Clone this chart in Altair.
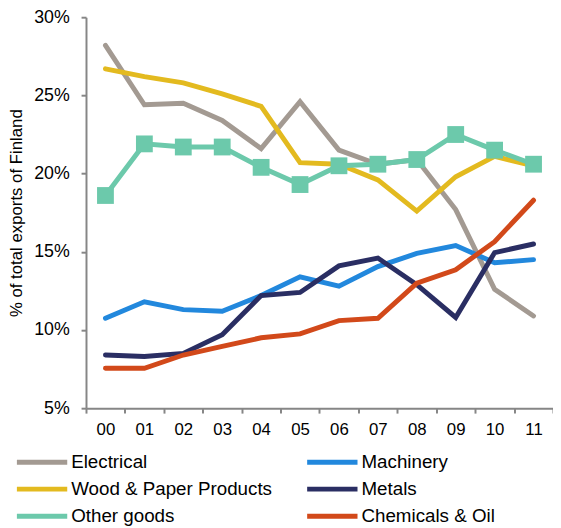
import altair as alt
import pandas as pd

years = ["00", "01", "02", "03", "04", "05", "06", "07", "08", "09", "10", "11"]

electrical = [28.2, 24.4, 24.5, 23.4, 21.6, 24.6, 21.5, 20.6, 20.9, 17.7, 12.6, 10.9]
machinery = [10.75, 11.8, 11.3, 11.2, 12.2, 13.4, 12.8, 14.05, 14.9, 15.4, 14.3, 14.5]
wood_paper = [26.7, 26.2, 25.8, 25.1, 24.3, 20.7, 20.6, 19.6, 17.6, 19.8, 21.1, 20.5]
metals = [8.4, 8.3, 8.5, 9.7, 12.2, 12.4, 14.1, 14.6, 12.9, 10.8, 14.95, 15.5]
other_goods = [18.6, 21.9, 21.7, 21.7, 20.4, 19.3, 20.5, 20.6, 20.9, 22.5, 21.5, 20.6]
chemicals = [7.55, 7.55, 8.4, 8.95, 9.5, 9.75, 10.6, 10.75, 13.0, 13.85, 15.65, 18.3]

# legend order: first column then second column
series_names = ["Electrical", "Wood & Paper Products", "Other goods",
                "Machinery", "Metals", "Chemicals & Oil"]
series_values = [electrical, wood_paper, other_goods, machinery, metals, chemicals]
series_colors = ["#A39A92", "#E3BA1F", "#6CC9AB", "#2288DD", "#2A2E63", "#D2491A"]

rows = []
for name, vals in zip(series_names, series_values):
    for y, v in zip(years, vals):
        rows.append({"year": y, "value": v, "series": name})
df = pd.DataFrame(rows)

axis_grey = "#868686"
font = "Liberation Sans"

x_enc = alt.X(
    "year:O",
    sort=years,
    scale=alt.Scale(type="band", paddingInner=0, paddingOuter=0),
    axis=alt.Axis(
        title=None, labelAngle=0, tickBand="extent", labelFontSize=17,
        labelColor="black", labelFont=font, tickSize=5, labelPadding=9,
        domainColor=axis_grey, tickColor=axis_grey, domainWidth=2, tickWidth=2,
        grid=False,
    ),
)
y_enc = alt.Y(
    "value:Q",
    scale=alt.Scale(domain=[5, 30], nice=False, zero=False),
    axis=alt.Axis(
        title="% of total exports of Finland", values=[5, 10, 15, 20, 25, 30],
        labelExpr="datum.value + '%'", labelFontSize=18, labelColor="black",
        labelFont=font, tickSize=5, labelPadding=12, domainColor=axis_grey,
        tickColor=axis_grey, domainWidth=2, tickWidth=2, grid=False,
        titleFont=font, titleFontSize=17, titleFontWeight="normal",
        titleColor="black", titleX=-70, titleY=198, titleBaseline="middle",
        titleAngle=270,
    ),
)

color_enc = alt.Color(
    "series:N",
    sort=series_names,
    scale=alt.Scale(domain=series_names, range=series_colors),
    legend=alt.Legend(
        title=None, orient="none", legendX=-54, legendY=441, columns=2,
        direction="vertical",
        symbolType="M-5,0H5", symbolSize=104, symbolStrokeWidth=5,
        labelFontSize=19, labelFont=font, labelColor="black", labelOffset=20,
        rowPadding=6.5, columnPadding=25, padding=0, labelLimit=400,
    ),
)

lines = alt.Chart(df).mark_line(strokeWidth=5, strokeCap="round").encode(
    x=x_enc, y=y_enc, color=color_enc, detail="series:N"
)

points = alt.Chart(df).transform_filter(
    alt.datum.series == "Other goods"
).mark_point(shape="square", filled=True, size=290, opacity=1).encode(
    x=x_enc, y=y_enc, color=alt.value("#6CC9AB")
)

chart = alt.layer(lines, points).properties(
    width=473, height=396,
    autosize=alt.AutoSizeParams(type="none"),
    padding={"left": 79, "top": 6, "right": 0, "bottom": 116},
).configure_view(stroke=None)

chart.save("out.html", embed_options={"renderer": "svg", "actions": False})
